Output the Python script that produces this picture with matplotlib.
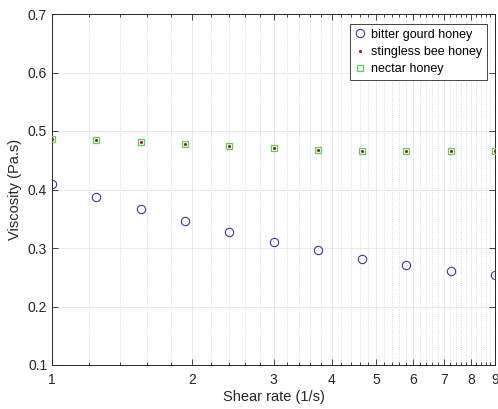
import numpy as np
import matplotlib
matplotlib.use("Agg")
import matplotlib.pyplot as plt
from matplotlib.ticker import FixedLocator, NullFormatter

plt.rcParams['font.family'] = ['Liberation Sans', 'DejaVu Sans']

# DATA
shear_rate = [1.0, 1.246, 1.552, 1.933, 2.408, 3.0, 3.737, 4.656, 5.80, 7.22, 9.0]
bitter_gourd = [0.409, 0.387, 0.366, 0.346, 0.328, 0.310, 0.296, 0.282, 0.271, 0.260, 0.253]
stingless_bee = [0.486, 0.484, 0.481, 0.478, 0.475, 0.471, 0.468, 0.465, 0.465, 0.465, 0.466]
nectar = [0.486, 0.484, 0.481, 0.478, 0.475, 0.471, 0.468, 0.465, 0.465, 0.465, 0.466]

x_major = [1, 2, 3, 4, 5, 6, 7, 8, 9]
y_major = [0.1, 0.2, 0.3, 0.4, 0.5, 0.6, 0.7]

fig = plt.figure(figsize=(4.98, 4.09), dpi=100)
ax = fig.add_axes([52 / 498, 1 - 365 / 409, 443 / 498, 351 / 409])

ax.plot(shear_rate, bitter_gourd, 'o', mfc='none', mec='#3a3aa0', ms=6, mew=0.8,
        label='bitter gourd honey', zorder=3)
ax.plot(shear_rate, stingless_bee, '.', color='#a01818', ms=2.5,
        label='stingless bee honey', zorder=4)
ax.plot(shear_rate, nectar, 's', mfc='none', mec='#5fcc5f', ms=5, mew=0.9,
        label='nectar honey', zorder=3)

ax.set_xscale('log')
ax.set_xlim(1, 9)
ax.set_ylim(0.1, 0.7)
ax.xaxis.set_major_locator(FixedLocator(x_major))
ax.xaxis.set_major_formatter(matplotlib.ticker.FixedFormatter([str(v) for v in x_major]))
minor = [1 + 0.2 * i for i in range(41)]
ax.xaxis.set_minor_locator(FixedLocator(minor))
ax.xaxis.set_minor_formatter(NullFormatter())
ax.set_yticks(y_major)
ax.set_yticklabels(['%.1f' % v for v in y_major])

ax.tick_params(which='both', direction='in', top=True, right=True, labelsize=10,
               colors='#262626', width=0.6)
ax.tick_params(which='major', length=4)
ax.tick_params(which='minor', length=2.5)
ax.tick_params(axis='x', pad=6)

ax.grid(True, which='major', color='#e6e6e6', linewidth=0.6)
ax.grid(True, which='minor', axis='x', color='#cfcfcf', linestyle=':', linewidth=0.6)
ax.set_axisbelow(True)
for s in ax.spines.values():
    s.set_color('#262626')
    s.set_linewidth(0.7)

ax.set_xlabel('Shear rate (1/s)', fontsize=10.5, color='#262626', labelpad=2)
ax.set_ylabel('Viscosity (Pa.s)', fontsize=10.5, color='#262626', labelpad=4)

leg = ax.legend(loc='upper right', bbox_to_anchor=(0.982, 0.972), fontsize=9,
                fancybox=False, framealpha=1, edgecolor='#262626',
                handlelength=0.8, handletextpad=0.5, borderpad=0.4,
                labelspacing=0.42, borderaxespad=0)
leg.get_frame().set_linewidth(0.6)

fig.savefig('out.png', dpi=100)
